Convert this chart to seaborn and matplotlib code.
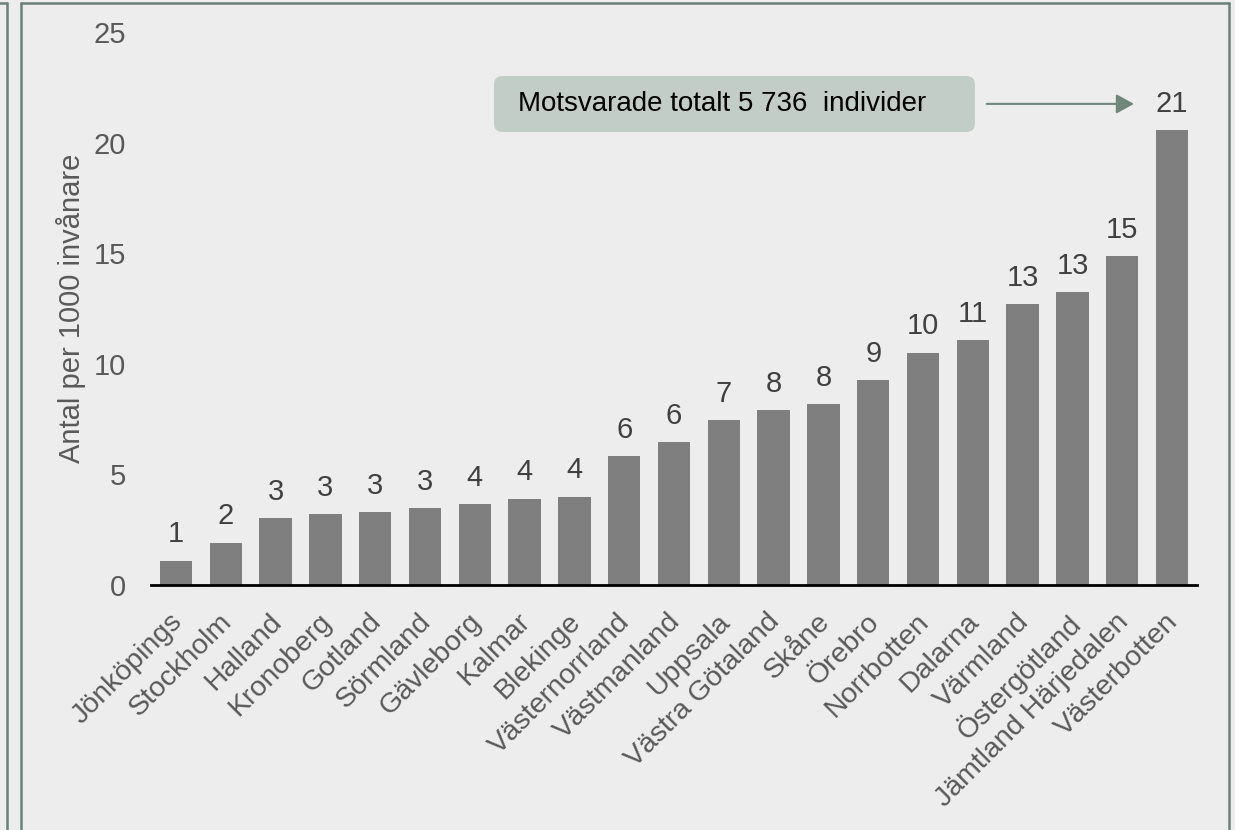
import matplotlib
matplotlib.use("Agg")
import matplotlib.pyplot as plt
import seaborn as sns
import pandas as pd
from matplotlib.lines import Line2D
from matplotlib.patches import FancyBboxPatch
from matplotlib.transforms import ScaledTranslation

# ---- data ----
regions = ["Jönköpings", "Stockholm", "Halland", "Kronoberg", "Gotland", "Sörmland",
           "Gävleborg", "Kalmar", "Blekinge", "Västernorrland", "Västmanland", "Uppsala",
           "Västra Götaland", "Skåne", "Örebro", "Norrbotten", "Dalarna", "Värmland",
           "Östergötland", "Jämtland Härjedalen", "Västerbotten"]
values = [1.1, 1.92, 3.01, 3.19, 3.28, 3.46, 3.64, 3.91, 4.0, 5.81, 6.45, 7.44,
          7.9, 8.17, 9.25, 10.5, 11.06, 12.69, 13.24, 14.86, 20.56]
value_labels = ["1", "2", "3", "3", "3", "3", "4", "4", "4", "6", "6", "7",
                "8", "8", "9", "10", "11", "13", "13", "15", "21"]
y_ticks = [0, 5, 10, 15, 20, 25]
y_label = "Antal per 1000 invånare"
note_text = "Motsvarade totalt 5 736  individer"

BG = "#EDEDED"
FRAME = "#6B8078"
ARROW = "#71877C"
BAR = "#7F7F7F"
TICK = "#595959"
VAL = "#404040"
BOX = "#C3CDC7"

sns.set_style("white")
plt.rcParams["font.family"] = ["Liberation Sans", "DejaVu Sans"]

W, H = 1235, 830
fig = plt.figure(figsize=(W / 100, H / 100), dpi=100, facecolor=BG)
ax = fig.add_axes([151 / W, 1 - 585 / H, (1197 - 151) / W, (585 - 32) / H])
ax.set_facecolor(BG)

df = pd.DataFrame({"region": regions, "value": values})
sns.barplot(data=df, x="region", y="value", color=BAR, saturation=1,
            width=0.65, edgecolor="none", linewidth=0, ax=ax)
ax.bar_label(ax.containers[0], labels=value_labels, padding=9,
             fontsize=21, color=VAL)

ax.set_ylim(0, 25)
ax.set_yticks(y_ticks)
ax.set_yticklabels([str(t) for t in y_ticks])
ax.tick_params(axis="y", length=0, pad=18, labelsize=21, labelcolor=TICK)
ax.tick_params(axis="x", length=0, pad=17, labelsize=20.5, labelcolor=TICK)
shift = ScaledTranslation(-7 / 100, 0, fig.dpi_scale_trans)
for lab in ax.get_xticklabels():
    lab.set_rotation(45)
    lab.set_ha("right")
    lab.set_rotation_mode("anchor")
    lab.set_transform(lab.get_transform() + shift)

ax.set_xlabel("")
ax.set_ylabel(y_label, fontsize=21, color=TICK)
ax.yaxis.set_label_coords((86 - 151) / (1197 - 151), 0.5)

for s in ["top", "right", "left"]:
    ax.spines[s].set_visible(False)
ax.spines["bottom"].set_color("black")
ax.spines["bottom"].set_linewidth(2)
ax.grid(False)

# annotation box + arrow (data coords)
x_px = 49.81
y_px = 22.12
box = FancyBboxPatch((6.386, 20.48), 16.04 - 6.386, 23.01 - 20.48,
                     boxstyle="round,pad=0,rounding_size=0.17",
                     mutation_aspect=x_px / y_px,
                     facecolor=BOX, edgecolor="none", zorder=3, clip_on=False)
ax.add_patch(box)
ax.text(6.868, 21.75, note_text, fontsize=20, color="black", ha="left",
        va="center", zorder=4)
ax.annotate("", xy=(19.235, 21.75), xytext=(16.28, 21.75),
            arrowprops=dict(arrowstyle="-|>,head_length=0.4,head_width=0.22",
                            color=ARROW, lw=1.5,
                            mutation_scale=27, shrinkA=0, shrinkB=0),
            zorder=4)

# panel frames
lw = 1.8
fig.add_artist(Line2D([21 / W, 21 / W], [0, 1 - 3 / H], color=FRAME, lw=lw))
fig.add_artist(Line2D([21 / W, 1229 / W], [1 - 3 / H, 1 - 3 / H], color=FRAME, lw=lw))
fig.add_artist(Line2D([1229 / W, 1229 / W], [0, 1 - 3 / H], color=FRAME, lw=lw))
fig.add_artist(Line2D([7 / W, 7 / W], [0, 1 - 3 / H], color=FRAME, lw=lw))
fig.add_artist(Line2D([0, 7 / W], [1 - 3 / H, 1 - 3 / H], color=FRAME, lw=lw))

fig.savefig("out.png", dpi=100, facecolor=BG)
